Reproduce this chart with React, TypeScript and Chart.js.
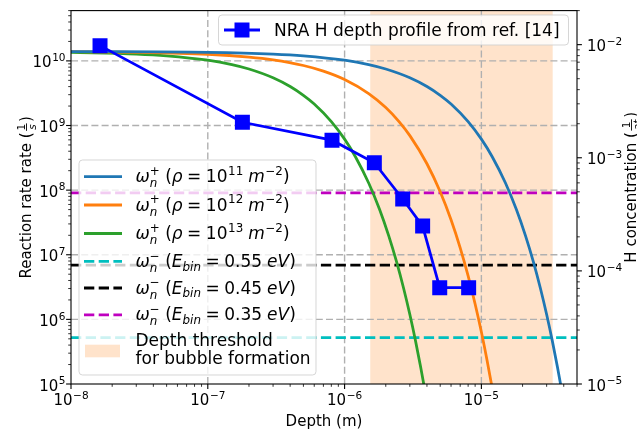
import React, { useEffect, useRef } from 'react';
import { Chart, registerables } from 'chart.js';
Chart.register(...registerables);

// ---------------- data ----------------
const X_MIN = 1e-8;
const X_MAX = 5e-5;
const Y_MIN = 1e5;
const Y_MAX = 6e10;
const Y2_MIN = 1e-5;
const Y2_MAX = 2e-2;

const xMajorTicks = [1e-8, 1e-7, 1e-6, 1e-5];
const xTickLabels = ['10^−8', '10^−7', '10^−6', '10^−5'];
const yMajorTicks = [1e5, 1e6, 1e7, 1e8, 1e9, 1e10];
const yTickLabels = ['10^5', '10^6', '10^7', '10^8', '10^9', '10^10'];
const y2MajorTicks = [1e-5, 1e-4, 1e-3, 1e-2];
const y2TickLabels = ['10^−5', '10^−4', '10^−3', '10^−2'];

// omega_n^+ (rho = 1e11 m^-2)
const depthRho11 = [1e-8, 1e-7, 3e-7, 5e-7, 1e-6, 1.5e-6, 2e-6, 3e-6, 4e-6, 5e-6, 6e-6, 8e-6, 1e-5, 1.2e-5, 1.5e-5, 1.8e-5, 2.1e-5, 2.4e-5, 2.7e-5, 3e-5, 3.3e-5, 3.6e-5, 3.9e-5];
const rateRho11 = [1.396e10, 1.357e10, 1.275e10, 1.197e10, 1.024e10, 8.76e9, 7.49e9, 5.48e9, 4.01e9, 2.93e9, 2.15e9, 1.149e9, 6.15e8, 3.29e8, 1.289e8, 5.05e7, 1.977e7, 7.74e6, 3.03e6, 1.187e6, 4.65e5, 1.82e5, 7.13e4];
// omega_n^+ (rho = 1e12 m^-2)
const depthRho12 = [1e-8, 3e-8, 1e-7, 2e-7, 3e-7, 5e-7, 7e-7, 1e-6, 1.5e-6, 2e-6, 2.5e-6, 3e-6, 4e-6, 5e-6, 6e-6, 7e-6, 8e-6, 9e-6, 1e-5, 1.1e-5, 1.2e-5, 1.3e-5];
const rateRho12 = [1.386e10, 1.359e10, 1.267e10, 1.146e10, 1.037e10, 8.49e9, 6.95e9, 5.15e9, 3.12e9, 1.895e9, 1.149e9, 6.97e8, 2.56e8, 9.43e7, 3.47e7, 1.277e7, 4.7e6, 1.728e6, 6.36e5, 2.34e5, 8.6e4, 3.16e4];
// omega_n^+ (rho = 1e13 m^-2)
const depthRho13 = [1e-8, 3e-8, 5e-8, 1e-7, 1.5e-7, 2e-7, 3e-7, 4e-7, 5e-7, 6e-7, 8e-7, 1e-6, 1.2e-6, 1.5e-6, 1.8e-6, 2.1e-6, 2.4e-6, 2.7e-6, 3e-6, 3.3e-6, 3.6e-6, 3.9e-6];
const rateRho13 = [1.357e10, 1.275e10, 1.197e10, 1.024e10, 8.76e9, 7.49e9, 5.48e9, 4.01e9, 2.93e9, 2.15e9, 1.149e9, 6.15e8, 3.29e8, 1.289e8, 5.05e7, 1.977e7, 7.74e6, 3.03e6, 1.187e6, 4.65e5, 1.82e5, 7.13e4];

// omega_n^- levels for E_bin = 0.55, 0.45, 0.35 eV
const ebinValues = ['0.55', '0.45', '0.35'];
const ebinRates = [5.2e5, 6.9e6, 9.1e7];

// NRA H depth profile (right axis)
const nraDepth = [1.63e-8, 1.79e-7, 8.09e-7, 1.65e-6, 2.66e-6, 3.72e-6, 4.96e-6, 8.07e-6];
const nraConc = [9.8e-3, 2.06e-3, 1.43e-3, 9.04e-4, 4.32e-4, 2.49e-4, 7.1e-5, 7.1e-5];

// depth threshold for bubble formation
const bubbleSpan = [1.54e-6, 3.32e-5];

// ---------------- styling ----------------
const C_BLUE = '#1f77b4';
const C_ORANGE = '#ff7f0e';
const C_GREEN = '#2ca02c';
const C_EBIN = ['#00bfbf', '#000000', '#bf00bf'];
const C_NRA = '#0000ff';
const C_SPAN = 'rgba(255,218,185,0.75)';
const LW = 2.78;
const DASH = [10.3, 4.4];
const FF = "'DejaVu Sans', 'Liberation Sans', sans-serif";
const TICK_SIZE = 15;
const LEG_SIZE = 17;

type Seg = { t?: string; it?: boolean; sup?: boolean; sub?: boolean; stack?: [string, string]; frac?: [string, string]; sp?: number };

function setFont(ctx: CanvasRenderingContext2D, size: number, it: boolean) {
  ctx.font = `${it ? 'italic ' : ''}${size}px ${FF}`;
}

function measureSeg(ctx: CanvasRenderingContext2D, s: Seg, size: number) {
  const ss = size * 0.7;
  if (s.sp !== undefined) return s.sp;
  if (s.stack) {
    setFont(ctx, ss, true);
    const a = ctx.measureText(s.stack[0]).width;
    setFont(ctx, ss, false);
    const b = ctx.measureText(s.stack[1]).width;
    return Math.max(a, b) + 0.5;
  }
  if (s.frac) {
    setFont(ctx, ss, false);
    const a = ctx.measureText(s.frac[0]).width;
    setFont(ctx, ss, true);
    const b = ctx.measureText(s.frac[1]).width;
    return Math.max(a, b) + 0.25 * size;
  }
  setFont(ctx, s.sup || s.sub ? ss : size, !!s.it);
  return ctx.measureText(s.t || '').width + (s.sup ? 0.6 : 0);
}

function drawSegs(ctx: CanvasRenderingContext2D, segs: Seg[], x: number, y: number, size: number, align: string, color = '#000') {
  const widths = segs.map((s) => measureSeg(ctx, s, size));
  const total = widths.reduce((a, b) => a + b, 0);
  let cx = align === 'left' ? x : align === 'right' ? x - total : x - total / 2;
  ctx.fillStyle = color;
  ctx.textBaseline = 'alphabetic';
  ctx.textAlign = 'left';
  const ss = size * 0.7;
  segs.forEach((s, i) => {
    const w = widths[i];
    if (s.sp !== undefined) {
      // explicit space
    } else if (s.stack) {
      setFont(ctx, ss, true);
      ctx.fillText(s.stack[0], cx, y + 0.3 * size);
      setFont(ctx, ss, false);
      ctx.fillText(s.stack[1], cx, y - 0.42 * size);
    } else if (s.frac) {
      const barY = y - 0.3 * size;
      ctx.fillRect(cx + 0.1 * size, barY - 0.45, w - 0.2 * size, 0.9);
      setFont(ctx, ss, false);
      const a = ctx.measureText(s.frac[0]).width;
      ctx.fillText(s.frac[0], cx + (w - a) / 2, barY - 1.6);
      setFont(ctx, ss, true);
      const b = ctx.measureText(s.frac[1]).width;
      ctx.fillText(s.frac[1], cx + (w - b) / 2, barY + 1.6 + 0.72 * ss);
    } else {
      setFont(ctx, s.sup || s.sub ? ss : size, !!s.it);
      const dy = s.sup ? -0.42 * size : s.sub ? 0.22 * size : 0;
      ctx.fillText(s.t || '', cx + (s.sup ? 0.6 : 0), y + dy);
    }
    cx += w;
  });
  return total;
}

function powSegs(label: string): Seg[] {
  const [b, e] = label.split('^');
  return [{ t: b }, { t: e, sup: true }];
}

function minorTicks(min: number, max: number) {
  const out: number[] = [];
  for (let e = Math.floor(Math.log10(min)); e <= Math.ceil(Math.log10(max)); e++) {
    for (let m = 2; m <= 9; m++) {
      const v = m * Math.pow(10, e);
      if (v >= min * 0.999 && v <= max * 1.001) out.push(v);
    }
  }
  return out;
}

function roundRect(ctx: CanvasRenderingContext2D, x: number, y: number, w: number, h: number, r: number) {
  ctx.beginPath();
  ctx.moveTo(x + r, y);
  ctx.lineTo(x + w - r, y);
  ctx.quadraticCurveTo(x + w, y, x + w, y + r);
  ctx.lineTo(x + w, y + h - r);
  ctx.quadraticCurveTo(x + w, y + h, x + w - r, y + h);
  ctx.lineTo(x + r, y + h);
  ctx.quadraticCurveTo(x, y + h, x, y + h - r);
  ctx.lineTo(x, y + r);
  ctx.quadraticCurveTo(x, y, x + r, y);
  ctx.closePath();
}

function legendBox(ctx: CanvasRenderingContext2D, x: number, y: number, w: number, h: number) {
  roundRect(ctx, x, y, w, h, 3.5);
  ctx.fillStyle = 'rgba(255,255,255,0.8)';
  ctx.fill();
  ctx.strokeStyle = 'rgba(204,204,204,0.8)';
  ctx.lineWidth = 1;
  ctx.setLineDash([]);
  ctx.stroke();
}

const rhoLabel = (p: string): Seg[] => [
  { t: 'ω', it: true }, { stack: ['n', '+'] }, { sp: 5 }, { t: '(' }, { t: 'ρ', it: true }, { sp: 4.5 }, { t: '=' }, { sp: 4.5 }, { t: '10' }, { t: p, sup: true }, { sp: 5 }, { t: 'm', it: true }, { t: '−2', sup: true }, { t: ')' },
];
const ebinLabel = (v: string): Seg[] => [
  { t: 'ω', it: true }, { stack: ['n', '−'] }, { sp: 5 }, { t: '(' }, { t: 'E', it: true }, { t: 'bin', sub: true, it: true }, { sp: 4.5 }, { t: '=' }, { sp: 4.5 }, { t: v }, { sp: 5 }, { t: 'eV', it: true }, { t: ')' },
];

const overlayPlugin = {
  id: 'overlay',
  beforeDatasetsDraw(chart: any) {
    const { ctx, chartArea: a, scales } = chart;
    const xs = scales.x;
    const ys = scales.y;
    ctx.save();
    // bubble span
    const x0 = xs.getPixelForValue(bubbleSpan[0]);
    const x1 = xs.getPixelForValue(bubbleSpan[1]);
    ctx.fillStyle = C_SPAN;
    ctx.fillRect(x0, a.top, x1 - x0, a.bottom - a.top);
    // grid
    ctx.strokeStyle = '#b0b0b0';
    ctx.lineWidth = 1.4;
    ctx.setLineDash([7, 3.2]);
    xMajorTicks.forEach((v) => {
      const px = xs.getPixelForValue(v);
      if (px <= a.left + 1 || px >= a.right - 1) return;
      ctx.beginPath();
      ctx.moveTo(px, a.bottom);
      ctx.lineTo(px, a.top);
      ctx.stroke();
    });
    yMajorTicks.forEach((v) => {
      const py = ys.getPixelForValue(v);
      if (py <= a.top + 1 || py >= a.bottom - 1) return;
      ctx.beginPath();
      ctx.moveTo(a.left, py);
      ctx.lineTo(a.right, py);
      ctx.stroke();
    });
    ctx.restore();
  },
  afterDatasetsDraw(chart: any) {
    const { ctx, chartArea: a, scales } = chart;
    const xs = scales.x;
    const ys = scales.y;
    const y2 = scales.y2;
    ctx.save();

    // ---- legend 1 (lower left) ----
    legendBox(ctx, 79, 160, 237, 215);
    const hx0 = 84;
    const hx1 = 122;
    const tx = 135.5;
    const rows = [176.7, 205, 233.5, 261.3, 288, 314.8];
    const rhoColors = [C_BLUE, C_ORANGE, C_GREEN];
    const rhoPows = ['11', '12', '13'];
    for (let i = 0; i < 3; i++) {
      ctx.strokeStyle = rhoColors[i];
      ctx.lineWidth = LW;
      ctx.setLineDash([]);
      ctx.beginPath();
      ctx.moveTo(hx0, rows[i]);
      ctx.lineTo(hx1, rows[i]);
      ctx.stroke();
      drawSegs(ctx, rhoLabel(rhoPows[i]), tx, rows[i] + 5.5, LEG_SIZE, 'left');
    }
    for (let i = 0; i < 3; i++) {
      const r = rows[3 + i];
      ctx.strokeStyle = C_EBIN[i];
      ctx.lineWidth = LW;
      ctx.setLineDash(DASH);
      ctx.beginPath();
      ctx.moveTo(hx0, r);
      ctx.lineTo(hx1, r);
      ctx.stroke();
      ctx.setLineDash([]);
      drawSegs(ctx, ebinLabel(ebinValues[i]), tx, r + 5.5, LEG_SIZE, 'left');
    }
    ctx.fillStyle = C_SPAN;
    ctx.fillRect(85, 344.7, 35, 12.6);
    drawSegs(ctx, [{ t: 'Depth threshold' }], tx, 345.5, LEG_SIZE, 'left');
    drawSegs(ctx, [{ t: 'for bubble formation' }], tx, 364, LEG_SIZE, 'left');

    // ---- legend 2 (top) ----
    legendBox(ctx, 218.5, 15, 350, 30);
    ctx.strokeStyle = C_NRA;
    ctx.lineWidth = LW;
    ctx.setLineDash([]);
    ctx.beginPath();
    ctx.moveTo(224, 30);
    ctx.lineTo(260, 30);
    ctx.stroke();
    ctx.fillStyle = C_NRA;
    ctx.fillRect(242 - 7.5, 30 - 7.5, 15, 15);
    drawSegs(ctx, [{ t: 'NRA H depth profile from ref. [14]' }], 274, 35.5, LEG_SIZE, 'left');

    // ---- spines ----
    ctx.strokeStyle = '#000';
    ctx.lineWidth = 1.1;
    ctx.setLineDash([]);
    ctx.strokeRect(a.left, a.top, a.right - a.left, a.bottom - a.top);

    // ---- ticks ----
    const tick = (x0: number, y0: number, x1: number, y1: number, w: number) => {
      ctx.lineWidth = w;
      ctx.beginPath();
      ctx.moveTo(x0, y0);
      ctx.lineTo(x1, y1);
      ctx.stroke();
    };
    xMajorTicks.forEach((v) => { const p = xs.getPixelForValue(v); tick(p, a.bottom, p, a.bottom + 4.9, 1.1); });
    minorTicks(X_MIN, X_MAX).forEach((v) => { const p = xs.getPixelForValue(v); tick(p, a.bottom, p, a.bottom + 2.8, 0.8); });
    yMajorTicks.forEach((v) => { const p = ys.getPixelForValue(v); tick(a.left, p, a.left - 4.9, p, 1.1); });
    minorTicks(Y_MIN, Y_MAX).forEach((v) => { const p = ys.getPixelForValue(v); tick(a.left, p, a.left - 2.8, p, 0.8); });
    y2MajorTicks.forEach((v) => { const p = y2.getPixelForValue(v); tick(a.right, p, a.right + 4.9, p, 1.1); });
    minorTicks(Y2_MIN, Y2_MAX).forEach((v) => { const p = y2.getPixelForValue(v); tick(a.right, p, a.right + 2.8, p, 0.8); });

    // ---- tick labels ----
    xMajorTicks.forEach((v, i) => {
      drawSegs(ctx, powSegs(xTickLabels[i]), xs.getPixelForValue(v), a.bottom + 21, TICK_SIZE, 'center');
    });
    yMajorTicks.forEach((v, i) => {
      drawSegs(ctx, powSegs(yTickLabels[i]), a.left - 5.5, ys.getPixelForValue(v) + 6.5, TICK_SIZE, 'right');
    });
    y2MajorTicks.forEach((v, i) => {
      drawSegs(ctx, powSegs(y2TickLabels[i]), a.right + 10, y2.getPixelForValue(v) + 6.5, TICK_SIZE, 'left');
    });

    // ---- axis titles ----
    drawSegs(ctx, [{ t: 'Depth (m)' }], (a.left + a.right) / 2, 426, TICK_SIZE, 'center');
    const midY = (a.top + a.bottom) / 2;
    ctx.save();
    ctx.translate(31, midY);
    ctx.rotate(-Math.PI / 2);
    drawSegs(ctx, [{ t: 'Reaction rate rate (' }, { frac: ['1', 's'] }, { t: ')' }], 0, 0, TICK_SIZE, 'center');
    ctx.restore();
    ctx.save();
    ctx.translate(636, midY - 10);
    ctx.rotate(-Math.PI / 2);
    drawSegs(ctx, [{ t: 'H concentration (' }, { frac: ['1', 'at'] }, { t: ')' }], 0, 0, TICK_SIZE, 'center');
    ctx.restore();

    ctx.restore();
  },
};

const pts = (xs: number[], ys: number[]) => xs.map((x, i) => ({ x, y: ys[i] }));

export default function App() {
  const ref = useRef<HTMLCanvasElement | null>(null);
  useEffect(() => {
    if (!ref.current) return;
    const hline = (v: number) => [{ x: X_MIN, y: v }, { x: X_MAX, y: v }];
    const chart = new Chart(ref.current, {
      type: 'line',
      data: {
        datasets: [
          {
            label: 'NRA H depth profile from ref. [14]',
            data: pts(nraDepth, nraConc),
            yAxisID: 'y2',
            borderColor: C_NRA,
            backgroundColor: C_NRA,
            borderWidth: LW,
            pointStyle: 'rect',
            pointRadius: 10.6,
            pointBorderWidth: 0,
            pointBackgroundColor: C_NRA,
            order: 0,
          },
          {
            label: 'ω_n^+ (ρ = 10^11 m^-2)',
            data: pts(depthRho11, rateRho11),
            yAxisID: 'y',
            borderColor: C_BLUE,
            borderWidth: LW,
            pointRadius: 0,
            cubicInterpolationMode: 'monotone',
            clip: 0,
            order: 1,
          },
          {
            label: 'ω_n^+ (ρ = 10^12 m^-2)',
            data: pts(depthRho12, rateRho12),
            yAxisID: 'y',
            borderColor: C_ORANGE,
            borderWidth: LW,
            pointRadius: 0,
            cubicInterpolationMode: 'monotone',
            clip: 0,
            order: 2,
          },
          {
            label: 'ω_n^+ (ρ = 10^13 m^-2)',
            data: pts(depthRho13, rateRho13),
            yAxisID: 'y',
            borderColor: C_GREEN,
            borderWidth: LW,
            pointRadius: 0,
            cubicInterpolationMode: 'monotone',
            clip: 0,
            order: 3,
          },
          ...ebinRates.map((v, i) => ({
            label: `ω_n^- (E_bin = ${ebinValues[i]} eV)`,
            data: hline(v),
            yAxisID: 'y',
            borderColor: C_EBIN[i],
            borderWidth: LW,
            borderDash: DASH,
            pointRadius: 0,
            clip: 0,
            order: 4 + i,
          })),
        ] as any,
      },
      options: {
        animation: false,
        responsive: false,
        devicePixelRatio: 1,
        layout: { padding: { top: 7, left: 0, right: 0, bottom: 0 } },
        plugins: { legend: { display: false }, tooltip: { enabled: false } },
        scales: {
          x: {
            type: 'logarithmic',
            position: 'bottom',
            min: X_MIN,
            max: X_MAX,
            bounds: 'data',
            grid: { display: false },
            border: { display: false },
            ticks: { display: false },
            afterBuildTicks: (s: any) => { s.ticks = xMajorTicks.map((value) => ({ value })); },
            afterFit: (s: any) => { s.height = 54; },
          },
          y: {
            type: 'logarithmic',
            position: 'left',
            min: Y_MIN,
            max: Y_MAX,
            bounds: 'data',
            grid: { display: false },
            border: { display: false },
            ticks: { display: false },
            afterBuildTicks: (s: any) => { s.ticks = yMajorTicks.map((value) => ({ value })); },
            afterFit: (s: any) => { s.width = 71; },
          },
          y2: {
            type: 'logarithmic',
            position: 'right',
            min: Y2_MIN,
            max: Y2_MAX,
            bounds: 'data',
            grid: { display: false },
            border: { display: false },
            ticks: { display: false },
            afterBuildTicks: (s: any) => { s.ticks = y2MajorTicks.map((value) => ({ value })); },
            afterFit: (s: any) => { s.width = 60; },
          },
        },
      } as any,
      plugins: [overlayPlugin],
    });
    return () => chart.destroy();
  }, []);
  return (
    <div style={{ position: 'absolute', left: 0, top: 0, width: 637, height: 438, background: '#fff' }}>
      <canvas ref={ref} width={637} height={438} style={{ display: 'block', width: 637, height: 438 }} />
    </div>
  );
}
